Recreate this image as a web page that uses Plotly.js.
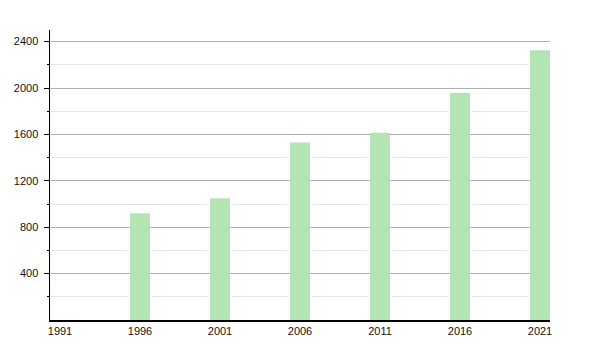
<!DOCTYPE html>
<html><head><meta charset="utf-8">
<script src="https://cdn.plot.ly/plotly-3.0.1.min.js"></script>
<style>body{margin:0;background:#fff}#chart{width:600px;height:350px}</style>
</head><body><div id="chart"></div>
<script>
const years = [1991, 1996, 2001, 2006, 2011, 2016, 2021];
const yearLabels = ['1991', '1996', '2001', '2006', '2011', '2016', '2021'];
const population = [null, 920, 1050, 1530, 1615, 1960, 2325];
const yTicks = [400, 800, 1200, 1600, 2000, 2400];
const yMinorTicks = [200, 600, 1000, 1400, 1800, 2200];

const barColor = 'rgb(179,228,179)';
const xr = [1990.375, 2021.625];
const yr = [0, 2500];

const halo = {type:'bar', x: years, y: population, width: 1.6, marker:{color:'#ffffff'},
  xaxis:'x', yaxis:'y', hoverinfo:'skip', showlegend:false};
const bars = {type:'bar', x: years, y: population, width: 1.25, marker:{color: barColor},
  xaxis:'x2', yaxis:'y2', showlegend:false};

const layout = {
  width:600, height:350, margin:{l:50, r:50, t:30, b:30},
  paper_bgcolor:'#ffffff', plot_bgcolor:'rgba(0,0,0,0)',
  showlegend:false, hovermode:false,
  font:{family:'Liberation Sans, Arial, sans-serif', size:11, color:'#111'},
  xaxis:{range:xr, domain:[0,1], anchor:'y', showgrid:false, showticklabels:false,
    zeroline:false, showline:false, ticks:''},
  yaxis:{range:yr, domain:[0,1], anchor:'x', tickmode:'array', tickvals:yMinorTicks,
    showgrid:true, gridcolor:'#e4e4e4', gridwidth:1, showticklabels:false, zeroline:false,
    showline:false, ticks:''},
  xaxis2:{range:xr, domain:[0,1], anchor:'y2', tickmode:'array', tickvals:years, ticktext:yearLabels,
    showgrid:false, zeroline:false, showline:true, linecolor:'#000', linewidth:1.5, ticks:'',
    tickfont:{size:11, color:'#111'}},
  yaxis2:{range:yr, domain:[0,1], anchor:'x2', tickmode:'array', tickvals:yTicks,
    showgrid:true, gridcolor:'#b0b0b0', gridwidth:1, zeroline:false, showline:true,
    linecolor:'#000', linewidth:1.5, ticks:'outside', ticklen:5, tickcolor:'#000', tickwidth:1,
    ticklabelstandoff:3,
    tickfont:{size:11, color:'#111'},
    minor:{tickmode:'array', tickvals:yMinorTicks, ticks:'outside', ticklen:2, tickcolor:'#000', showgrid:false}}
};

Plotly.newPlot('chart', [halo, bars], layout, {staticPlot:true, displayModeBar:false});
</script>
</body></html>
